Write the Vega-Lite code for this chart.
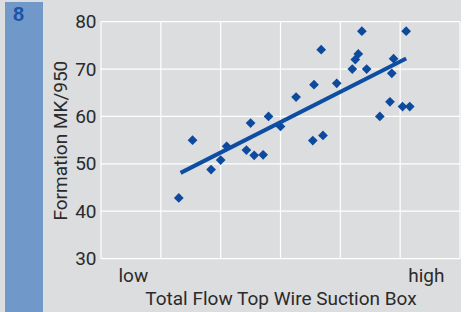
{
  "$schema": "https://vega.github.io/schema/vega-lite/v6.json",
  "background": "#dcdddf",
  "padding": {"left": 5, "top": 2, "right": 0, "bottom": 0},
  "spacing": 8,
  "config": {
    "view": {"stroke": null},
    "font": "Roboto",
    "axis": {"labelColor": "#2b2b2b", "titleColor": "#2b2b2b", "labelFont": "Roboto", "titleFont": "Roboto", "labelFontSize": 19, "titleFontSize": 19, "titleFontWeight": "normal", "ticks": false, "domain": false, "grid": false}
  },
  "hconcat": [
    {
      "width": 38,
      "height": 310,
      "view": {"fill": "#7099c9", "stroke": null},
      "title": {"text": "8", "anchor": "start", "offset": -26, "dy": -3, "dx": 8, "fontSize": 20, "fontWeight": "bold", "color": "#1a54a5", "font": "Liberation Sans"},
      "data": {"values": []},
      "mark": "point",
      "encoding": {}
    },
    {
      "width": 359,
      "height": 256.6,
      "layer": [
        {
          "data": {"values": [{"gridX": 0}, {"gridX": 1}, {"gridX": 2}, {"gridX": 3}, {"gridX": 4}, {"gridX": 5}, {"gridX": 6}]},
          "mark": {"type": "rule", "color": "#ffffff", "strokeWidth": 1.2},
          "encoding": {
            "x": {"field": "gridX", "type": "quantitative"},
            "y": {"datum": 30},
            "y2": {"datum": 80}
          }
        },
        {
          "data": {"values": [{"gridY": 30}, {"gridY": 40}, {"gridY": 50}, {"gridY": 60}, {"gridY": 70}, {"gridY": 80}]},
          "mark": {"type": "rule", "color": "#ffffff", "strokeWidth": 1.2},
          "encoding": {
            "y": {"field": "gridY", "type": "quantitative"},
            "x": {"datum": 0},
            "x2": {"datum": 6}
          }
        },
        {
          "data": {"values": [
            {"flow": 1.30, "formation": 42.8},
            {"flow": 1.53, "formation": 55.0},
            {"flow": 1.84, "formation": 48.8},
            {"flow": 2.00, "formation": 50.8},
            {"flow": 2.10, "formation": 53.7},
            {"flow": 2.43, "formation": 52.9},
            {"flow": 2.50, "formation": 58.6},
            {"flow": 2.56, "formation": 51.8},
            {"flow": 2.71, "formation": 51.9},
            {"flow": 2.80, "formation": 60.0},
            {"flow": 3.00, "formation": 57.9},
            {"flow": 3.26, "formation": 64.1},
            {"flow": 3.54, "formation": 54.9},
            {"flow": 3.56, "formation": 66.7},
            {"flow": 3.68, "formation": 74.1},
            {"flow": 3.71, "formation": 56.0},
            {"flow": 3.94, "formation": 67.0},
            {"flow": 4.20, "formation": 70.0},
            {"flow": 4.25, "formation": 72.0},
            {"flow": 4.30, "formation": 73.2},
            {"flow": 4.36, "formation": 78.0},
            {"flow": 4.44, "formation": 70.0},
            {"flow": 4.66, "formation": 60.0},
            {"flow": 4.83, "formation": 63.1},
            {"flow": 4.86, "formation": 69.1},
            {"flow": 4.89, "formation": 72.2},
            {"flow": 5.04, "formation": 62.1},
            {"flow": 5.10, "formation": 78.0},
            {"flow": 5.16, "formation": 62.1}
          ]},
          "mark": {"type": "point", "shape": "diamond", "filled": true, "size": 95, "color": "#0d4a9e", "opacity": 1},
          "encoding": {
            "x": {"field": "flow", "type": "quantitative", "scale": {"domain": [0, 6], "nice": false, "zero": false},
              "axis": {"values": [0, 1, 2, 3, 4, 5, 6], "grid": false, "title": "Total Flow Top Wire Suction Box", "titlePadding": 4, "labelPadding": 8, "labelFlush": false, "labelOverlap": false,
                "labelExpr": "datum.value == 0 ? 'low' : datum.value == 6 ? 'high' : ''",
                "labelAlign": {"condition": {"test": "datum.value == 0", "value": "left"}, "value": "right"},
                "labelOffset": {"condition": {"test": "datum.value == 0", "value": 17}, "value": -16}}},
            "y": {"field": "formation", "type": "quantitative", "scale": {"domain": [30, 80], "range": [256.6, 19.7], "nice": false, "zero": false},
              "axis": {"values": [30, 40, 50, 60, 70, 80], "grid": false, "title": "Formation MK/950", "titlePadding": 4, "labelPadding": 5}}
          }
        },
        {
          "data": {"values": [
            {"flow": 1.33, "formation": 48.1},
            {"flow": 5.10, "formation": 72.25}
          ]},
          "mark": {"type": "line", "color": "#0d4ea3", "strokeWidth": 4},
          "encoding": {
            "x": {"field": "flow", "type": "quantitative"},
            "y": {"field": "formation", "type": "quantitative"}
          }
        }
      ]
    }
  ]
}
